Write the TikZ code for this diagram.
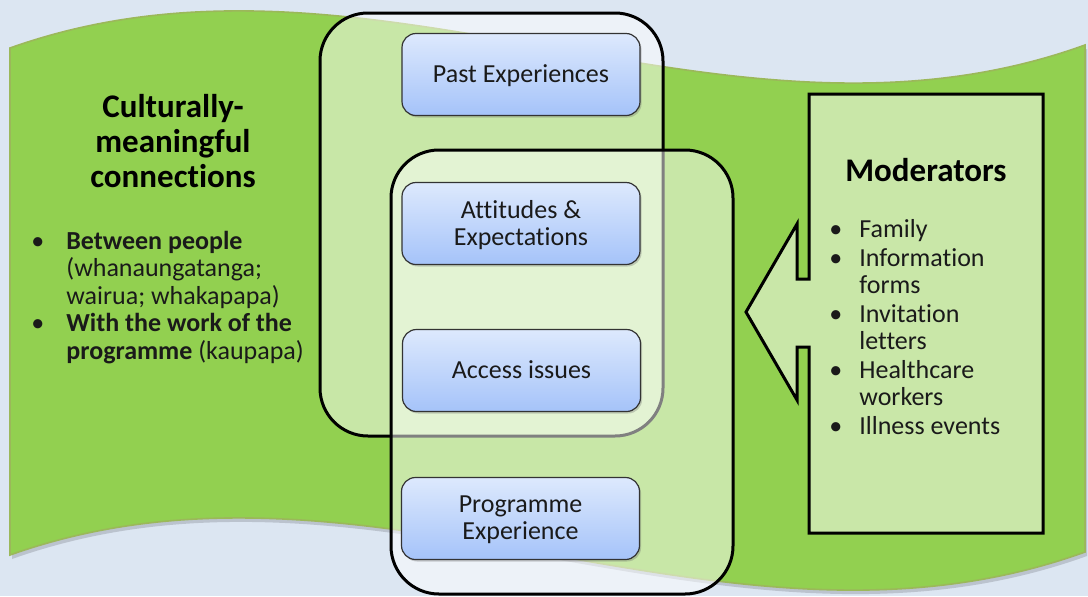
\documentclass[tikz,border=0pt]{standalone}
\usepackage{fontspec}
\setmainfont{Carlito}[RawFeature=-liga]
\usetikzlibrary{shadows}
\definecolor{bgblue}{HTML}{DCE6F2}
\definecolor{wavegreen}{HTML}{92D050}
\definecolor{waveedge}{HTML}{9BB85A}
\definecolor{paleblue}{HTML}{DDE9FD}
\definecolor{midblue}{HTML}{A5C3F9}
\definecolor{modfill}{HTML}{C9E7A8}
\definecolor{inktext}{HTML}{1A1A1A}

\begin{document}
\begin{tikzpicture}[x=0.5pt,y=-0.5pt,
  frame/.style={fill=white, fill opacity=0.5, draw=black, line width=1.5pt, rounded corners=24pt},
  factor/.style={draw=black!80, line width=0.6pt, rounded corners=7pt,
    top color=paleblue, bottom color=midblue, minimum width=119pt, minimum height=41pt,
    align=center, font=\fontsize{13}{13.5}\selectfont, text=inktext, text depth=0.8pt,
    drop shadow={opacity=0.3, shadow xshift=0.8pt, shadow yshift=-1pt, fill=black!60}},
  heading/.style={font=\fontsize{16.5}{17.5}\selectfont\bfseries, align=center, text=black},
  listtext/.style={inner sep=0pt, text=inktext},
  modbox/.style={fill=modfill, draw=black, line width=1.5pt, line join=miter}
]
\useasboundingbox (0,0) rectangle (1088,596);
\fill[bgblue] (0,0) rectangle (1088,596);

% green wave banner with a faint shadow beneath it
\fill[black!25!bgblue, opacity=0.6] (12,52) .. controls (372,-76) and (727,179) .. (1087,49)
  -- (1087,556) .. controls (727,686) and (372,431) .. (12,559) -- cycle;
\filldraw[fill=wavegreen, draw=waveedge, line width=0.8pt]
  (10,48) .. controls (370,-80) and (725,175) .. (1085,45)
  -- (1085,552) .. controls (725,682) and (370,427) .. (10,555) -- cycle;

% overlapping translucent groups
\draw[frame] (320,13) rectangle (663,436);
\draw[frame] (391,150) rectangle (733,594);

% factor boxes
\node[factor] (past) at (521,74.5) {Past Experiences};
\node[factor] (attitudes) at (521,223.5) {Attitudes \&\\Expectations};
\node[factor] (access) at (521.5,370.5) {Access issues};
\node[factor] (programme) at (520.5,518.5) {Programme\\Experience};

% left panel
\node[heading] (cultural) at (173,141) {Culturally-\\meaningful\\connections};
\node[listtext, anchor=base west, font=\fontsize{13}{13.75}\selectfont] (culturallist) at (31,249)
  {\begin{tabular}[t]{@{}p{17.5pt}@{}l@{}}
   • & \textbf{Between people}\\
     & (whanaungatanga;\\
     & wairua; whakapapa)\\
   • & \textbf{With the work of the}\\
     & \textbf{programme} (kaupapa)
   \end{tabular}};

% moderators arrow box
\draw[modbox] (809,94) -- (1043,94) -- (1043,533) -- (809,533) -- (809,347) -- (797,347)
  -- (797,400) -- (746,312) -- (797,224) -- (797,279) -- (809,279) -- cycle;
\node[heading] (modtitle) at (926,170) {Moderators};
\node[listtext, anchor=base west, font=\fontsize{13}{13.25}\selectfont] (modlist) at (829,237)
  {\begin{tabular}[t]{@{}p{15pt}@{}l@{}}
   • & Family\\[1.5pt]
   • & Information\\
     & forms\\[1.5pt]
   • & Invitation\\
     & letters\\[1.5pt]
   • & Healthcare\\
     & workers\\[1.5pt]
   • & Illness events
   \end{tabular}};
\end{tikzpicture}
\end{document}
